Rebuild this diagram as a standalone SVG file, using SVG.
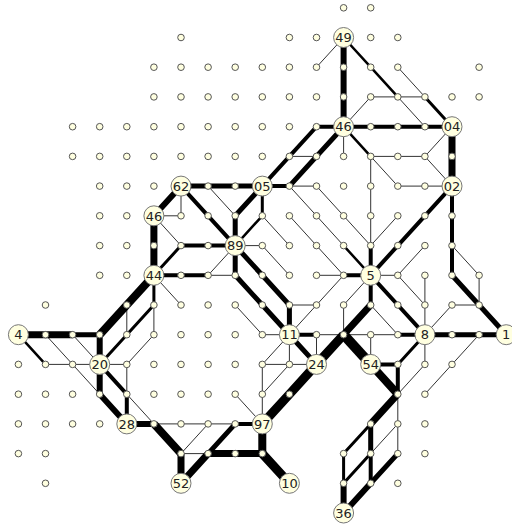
<svg xmlns="http://www.w3.org/2000/svg" width="512" height="527" viewBox="0 0 512 527">
<style>
.e{fill:none;stroke:#000;stroke-linecap:butt;stroke-linejoin:miter}
.w1{stroke-width:1;stroke:#333}.w2{stroke-width:2.5}.w3{stroke-width:3}.w4{stroke-width:4}.w5{stroke-width:5}.w6{stroke-width:6}.w7{stroke-width:7}.w8{stroke-width:8}.w9{stroke-width:9}.w10{stroke-width:10}
.d{fill:#ffffe0;stroke:#555;stroke-width:1}
.n circle{fill:#ffffe0;stroke:#777;stroke-width:1}
.n text{font-family:"DejaVu Sans",Verdana,sans-serif;font-size:13px;fill:#222;text-anchor:middle}
</style>
<rect width="512" height="527" fill="#fff"/>
<g id="connectors">
<path class="e w1" d="M316.5 67.2L343.6 37.5M397.8 96.9L424.9 126.7M397.8 67.2L424.9 96.9M343.6 126.7L370.7 96.9L424.9 96.9M424.9 156.4L452 126.7M370.7 156.4L424.9 156.4M424.9 156.4L452 186.1M343.6 126.7L343.6 156.4M316.5 186.1L343.6 215.8L370.7 245.6M370.7 156.4L370.7 245.6M370.7 156.4L397.8 186.1M397.8 186.1L452 186.1M397.8 215.8L370.7 245.6M452 245.6L479.1 275.3L479.1 305M424.9 334.7L452 305L479.1 305M289.4 186.1L316.5 215.8L343.6 245.6M289.4 215.8L316.5 245.6L343.6 275.3M316.5 275.3L343.6 275.3M370.7 275.3L397.8 275.3M424.9 245.6L397.8 275.3L424.9 305M424.9 275.3L424.9 334.7M370.7 305L397.8 334.7M370.7 275.3L343.6 305L343.6 334.7M343.6 275.3L316.5 305L289.4 334.7M289.4 305L316.5 305M316.5 334.7L397.8 334.7M316.5 334.7L316.5 364.4M370.7 334.7L370.7 364.4M424.9 334.7L424.9 364.4L397.8 394.2M479.1 334.7L452 364.4L424.9 394.2M397.8 394.2L397.8 453.6M397.8 423.9L370.7 453.6M289.4 186.1L316.5 186.1M289.4 156.4L316.5 156.4M181 186.1L181 215.8M208.1 186.1L235.2 215.8M262.3 215.8L289.4 245.6M235.2 245.6L262.3 245.6L289.4 275.3M235.2 245.6L208.1 275.3L235.2 275.3M153.9 215.8L181 215.8M153.9 215.8L181 245.6M153.9 275.3L181 305M126.8 305L126.8 334.7M153.9 305L153.9 334.7L126.8 364.4L99.7 364.4M45.5 334.7L72.6 364.4M72.6 334.7L99.7 364.4M45.5 364.4L99.7 364.4M126.8 364.4L126.8 394.2L153.9 423.9M72.6 364.4L99.7 394.2M153.9 423.9L235.2 423.9M208.1 423.9L181 453.6L208.1 453.6M262.3 423.9L262.3 364.4M262.3 423.9L235.2 394.2M262.3 394.2L289.4 364.4L316.5 364.4M289.4 334.7L262.3 364.4L289.4 364.4M289.4 334.7L289.4 364.4M235.2 305L262.3 334.7L289.4 334.7"/>
<path class="e w2" d="M343.6 37.5L370.7 67.2L397.8 96.9M18.4 334.7L45.5 364.4M262.3 215.8L235.2 245.6M343.6 126.7L370.7 156.4M343.6 245.6L370.7 275.3"/>
<path class="e w3" d="M424.9 96.9L452 126.7M262.3 186.1L262.3 215.8M153.9 275.3L181 245.6M153.9 275.3L153.9 305M153.9 305L126.8 334.7L99.7 364.4M397.8 364.4L424.9 334.7M370.7 423.9L343.6 453.6L343.6 483.3M370.7 453.6L343.6 483.3"/>
<path class="e w4" d="M343.6 126.7L452 126.7M452 186.1L424.9 215.8L397.8 245.6L370.7 275.3M452 186.1L452 275.3M370.7 245.6L370.7 275.3M343.6 275.3L370.7 275.3M370.7 275.3L397.8 305L424.9 334.7M370.7 275.3L370.7 305M289.4 334.7L316.5 334.7M397.8 334.7L424.9 334.7M370.7 364.4L397.8 364.4L397.8 394.2M262.3 186.1L289.4 156.4L316.5 126.7L343.6 126.7M262.3 186.1L289.4 186.1M181 186.1L208.1 215.8L235.2 245.6M181 245.6L235.2 245.6M153.9 275.3L208.1 275.3M99.7 364.4L126.8 394.2L126.8 423.9M235.2 423.9L262.3 423.9M370.7 453.6L370.7 483.3"/>
<path class="e w5" d="M452 275.3L479.1 305L506.2 334.7M424.9 334.7L506.2 334.7M289.4 334.7L316.5 364.4M370.7 423.9L370.7 453.6M397.8 453.6L370.7 483.3M289.4 186.1L316.5 156.4L343.6 126.7M181 186.1L262.3 186.1M262.3 186.1L235.2 215.8L235.2 245.6M235.2 245.6L262.3 275.3L289.4 305L289.4 334.7M235.2 245.6L235.2 275.3L262.3 305L289.4 334.7M72.6 334.7L99.7 334.7M235.2 423.9L208.1 453.6"/>
<path class="e w6" d="M343.6 37.5L343.6 126.7M181 186.1L153.9 215.8M99.7 334.7L99.7 364.4M99.7 364.4L99.7 394.2L126.8 423.9M126.8 423.9L153.9 423.9M343.6 483.3L343.6 513M370.7 483.3L343.6 513"/>
<path class="e w7" d="M452 126.7L452 186.1M153.9 215.8L153.9 275.3M18.4 334.7L72.6 334.7M370.7 305L343.6 334.7M397.8 394.2L370.7 423.9M181 453.6L181 483.3M208.1 453.6L181 483.3M208.1 453.6L262.3 453.6"/>
<path class="e w8" d="M153.9 275.3L126.8 305L99.7 334.7M370.7 364.4L397.8 394.2M153.9 423.9L181 453.6M262.3 453.6L262.3 423.9"/>
<path class="e w9" d="M343.6 334.7L316.5 364.4L289.4 394.2L262.3 423.9M262.3 453.6L289.4 483.3"/>
<path class="e w10" d="M343.6 334.7L370.7 364.4"/>
</g>
<g id="grid">
<circle class="d" r="3.3" cx="343.6" cy="7.8"/><circle class="d" r="3.3" cx="370.7" cy="7.8"/>
<circle class="d" r="3.3" cx="181" cy="37.5"/><circle class="d" r="3.3" cx="289.4" cy="37.5"/><circle class="d" r="3.3" cx="316.5" cy="37.5"/><circle class="d" r="3.3" cx="370.7" cy="37.5"/><circle class="d" r="3.3" cx="397.8" cy="37.5"/>
<circle class="d" r="3.3" cx="153.9" cy="67.2"/><circle class="d" r="3.3" cx="181" cy="67.2"/><circle class="d" r="3.3" cx="208.1" cy="67.2"/><circle class="d" r="3.3" cx="235.2" cy="67.2"/><circle class="d" r="3.3" cx="262.3" cy="67.2"/><circle class="d" r="3.3" cx="289.4" cy="67.2"/><circle class="d" r="3.3" cx="316.5" cy="67.2"/><circle class="d" r="3.3" cx="343.6" cy="67.2"/><circle class="d" r="3.3" cx="370.7" cy="67.2"/><circle class="d" r="3.3" cx="397.8" cy="67.2"/><circle class="d" r="3.3" cx="479.1" cy="67.2"/>
<circle class="d" r="3.3" cx="153.9" cy="96.9"/><circle class="d" r="3.3" cx="181" cy="96.9"/><circle class="d" r="3.3" cx="208.1" cy="96.9"/><circle class="d" r="3.3" cx="235.2" cy="96.9"/><circle class="d" r="3.3" cx="262.3" cy="96.9"/><circle class="d" r="3.3" cx="289.4" cy="96.9"/><circle class="d" r="3.3" cx="316.5" cy="96.9"/><circle class="d" r="3.3" cx="343.6" cy="96.9"/><circle class="d" r="3.3" cx="370.7" cy="96.9"/><circle class="d" r="3.3" cx="397.8" cy="96.9"/><circle class="d" r="3.3" cx="424.9" cy="96.9"/><circle class="d" r="3.3" cx="452" cy="96.9"/><circle class="d" r="3.3" cx="479.1" cy="96.9"/>
<circle class="d" r="3.3" cx="72.6" cy="126.7"/><circle class="d" r="3.3" cx="99.7" cy="126.7"/><circle class="d" r="3.3" cx="126.8" cy="126.7"/><circle class="d" r="3.3" cx="153.9" cy="126.7"/><circle class="d" r="3.3" cx="181" cy="126.7"/><circle class="d" r="3.3" cx="208.1" cy="126.7"/><circle class="d" r="3.3" cx="235.2" cy="126.7"/><circle class="d" r="3.3" cx="262.3" cy="126.7"/><circle class="d" r="3.3" cx="289.4" cy="126.7"/><circle class="d" r="3.3" cx="316.5" cy="126.7"/><circle class="d" r="3.3" cx="370.7" cy="126.7"/><circle class="d" r="3.3" cx="397.8" cy="126.7"/><circle class="d" r="3.3" cx="424.9" cy="126.7"/>
<circle class="d" r="3.3" cx="72.6" cy="156.4"/><circle class="d" r="3.3" cx="99.7" cy="156.4"/><circle class="d" r="3.3" cx="126.8" cy="156.4"/><circle class="d" r="3.3" cx="153.9" cy="156.4"/><circle class="d" r="3.3" cx="181" cy="156.4"/><circle class="d" r="3.3" cx="208.1" cy="156.4"/><circle class="d" r="3.3" cx="235.2" cy="156.4"/><circle class="d" r="3.3" cx="262.3" cy="156.4"/><circle class="d" r="3.3" cx="289.4" cy="156.4"/><circle class="d" r="3.3" cx="316.5" cy="156.4"/><circle class="d" r="3.3" cx="343.6" cy="156.4"/><circle class="d" r="3.3" cx="370.7" cy="156.4"/><circle class="d" r="3.3" cx="397.8" cy="156.4"/><circle class="d" r="3.3" cx="424.9" cy="156.4"/><circle class="d" r="3.3" cx="452" cy="156.4"/>
<circle class="d" r="3.3" cx="99.7" cy="186.1"/><circle class="d" r="3.3" cx="126.8" cy="186.1"/><circle class="d" r="3.3" cx="153.9" cy="186.1"/><circle class="d" r="3.3" cx="208.1" cy="186.1"/><circle class="d" r="3.3" cx="235.2" cy="186.1"/><circle class="d" r="3.3" cx="289.4" cy="186.1"/><circle class="d" r="3.3" cx="316.5" cy="186.1"/><circle class="d" r="3.3" cx="343.6" cy="186.1"/><circle class="d" r="3.3" cx="370.7" cy="186.1"/><circle class="d" r="3.3" cx="397.8" cy="186.1"/><circle class="d" r="3.3" cx="424.9" cy="186.1"/>
<circle class="d" r="3.3" cx="99.7" cy="215.8"/><circle class="d" r="3.3" cx="126.8" cy="215.8"/><circle class="d" r="3.3" cx="181" cy="215.8"/><circle class="d" r="3.3" cx="208.1" cy="215.8"/><circle class="d" r="3.3" cx="235.2" cy="215.8"/><circle class="d" r="3.3" cx="262.3" cy="215.8"/><circle class="d" r="3.3" cx="289.4" cy="215.8"/><circle class="d" r="3.3" cx="316.5" cy="215.8"/><circle class="d" r="3.3" cx="343.6" cy="215.8"/><circle class="d" r="3.3" cx="370.7" cy="215.8"/><circle class="d" r="3.3" cx="397.8" cy="215.8"/><circle class="d" r="3.3" cx="424.9" cy="215.8"/><circle class="d" r="3.3" cx="452" cy="215.8"/>
<circle class="d" r="3.3" cx="99.7" cy="245.6"/><circle class="d" r="3.3" cx="126.8" cy="245.6"/><circle class="d" r="3.3" cx="153.9" cy="245.6"/><circle class="d" r="3.3" cx="181" cy="245.6"/><circle class="d" r="3.3" cx="208.1" cy="245.6"/><circle class="d" r="3.3" cx="262.3" cy="245.6"/><circle class="d" r="3.3" cx="289.4" cy="245.6"/><circle class="d" r="3.3" cx="316.5" cy="245.6"/><circle class="d" r="3.3" cx="343.6" cy="245.6"/><circle class="d" r="3.3" cx="370.7" cy="245.6"/><circle class="d" r="3.3" cx="397.8" cy="245.6"/><circle class="d" r="3.3" cx="424.9" cy="245.6"/><circle class="d" r="3.3" cx="452" cy="245.6"/>
<circle class="d" r="3.3" cx="99.7" cy="275.3"/><circle class="d" r="3.3" cx="126.8" cy="275.3"/><circle class="d" r="3.3" cx="181" cy="275.3"/><circle class="d" r="3.3" cx="208.1" cy="275.3"/><circle class="d" r="3.3" cx="235.2" cy="275.3"/><circle class="d" r="3.3" cx="262.3" cy="275.3"/><circle class="d" r="3.3" cx="289.4" cy="275.3"/><circle class="d" r="3.3" cx="316.5" cy="275.3"/><circle class="d" r="3.3" cx="343.6" cy="275.3"/><circle class="d" r="3.3" cx="397.8" cy="275.3"/><circle class="d" r="3.3" cx="424.9" cy="275.3"/><circle class="d" r="3.3" cx="452" cy="275.3"/><circle class="d" r="3.3" cx="479.1" cy="275.3"/>
<circle class="d" r="3.3" cx="45.5" cy="305"/><circle class="d" r="3.3" cx="126.8" cy="305"/><circle class="d" r="3.3" cx="153.9" cy="305"/><circle class="d" r="3.3" cx="181" cy="305"/><circle class="d" r="3.3" cx="208.1" cy="305"/><circle class="d" r="3.3" cx="235.2" cy="305"/><circle class="d" r="3.3" cx="262.3" cy="305"/><circle class="d" r="3.3" cx="289.4" cy="305"/><circle class="d" r="3.3" cx="316.5" cy="305"/><circle class="d" r="3.3" cx="343.6" cy="305"/><circle class="d" r="3.3" cx="370.7" cy="305"/><circle class="d" r="3.3" cx="397.8" cy="305"/><circle class="d" r="3.3" cx="424.9" cy="305"/><circle class="d" r="3.3" cx="452" cy="305"/><circle class="d" r="3.3" cx="479.1" cy="305"/>
<circle class="d" r="3.3" cx="45.5" cy="334.7"/><circle class="d" r="3.3" cx="72.6" cy="334.7"/><circle class="d" r="3.3" cx="99.7" cy="334.7"/><circle class="d" r="3.3" cx="126.8" cy="334.7"/><circle class="d" r="3.3" cx="153.9" cy="334.7"/><circle class="d" r="3.3" cx="181" cy="334.7"/><circle class="d" r="3.3" cx="208.1" cy="334.7"/><circle class="d" r="3.3" cx="235.2" cy="334.7"/><circle class="d" r="3.3" cx="262.3" cy="334.7"/><circle class="d" r="3.3" cx="316.5" cy="334.7"/><circle class="d" r="3.3" cx="343.6" cy="334.7"/><circle class="d" r="3.3" cx="370.7" cy="334.7"/><circle class="d" r="3.3" cx="397.8" cy="334.7"/><circle class="d" r="3.3" cx="452" cy="334.7"/><circle class="d" r="3.3" cx="479.1" cy="334.7"/>
<circle class="d" r="3.3" cx="18.4" cy="364.4"/><circle class="d" r="3.3" cx="45.5" cy="364.4"/><circle class="d" r="3.3" cx="72.6" cy="364.4"/><circle class="d" r="3.3" cx="126.8" cy="364.4"/><circle class="d" r="3.3" cx="153.9" cy="364.4"/><circle class="d" r="3.3" cx="181" cy="364.4"/><circle class="d" r="3.3" cx="208.1" cy="364.4"/><circle class="d" r="3.3" cx="235.2" cy="364.4"/><circle class="d" r="3.3" cx="262.3" cy="364.4"/><circle class="d" r="3.3" cx="289.4" cy="364.4"/><circle class="d" r="3.3" cx="397.8" cy="364.4"/><circle class="d" r="3.3" cx="424.9" cy="364.4"/><circle class="d" r="3.3" cx="452" cy="364.4"/>
<circle class="d" r="3.3" cx="18.4" cy="394.2"/><circle class="d" r="3.3" cx="45.5" cy="394.2"/><circle class="d" r="3.3" cx="72.6" cy="394.2"/><circle class="d" r="3.3" cx="99.7" cy="394.2"/><circle class="d" r="3.3" cx="126.8" cy="394.2"/><circle class="d" r="3.3" cx="153.9" cy="394.2"/><circle class="d" r="3.3" cx="181" cy="394.2"/><circle class="d" r="3.3" cx="208.1" cy="394.2"/><circle class="d" r="3.3" cx="235.2" cy="394.2"/><circle class="d" r="3.3" cx="262.3" cy="394.2"/><circle class="d" r="3.3" cx="289.4" cy="394.2"/><circle class="d" r="3.3" cx="397.8" cy="394.2"/><circle class="d" r="3.3" cx="424.9" cy="394.2"/>
<circle class="d" r="3.3" cx="18.4" cy="423.9"/><circle class="d" r="3.3" cx="45.5" cy="423.9"/><circle class="d" r="3.3" cx="72.6" cy="423.9"/><circle class="d" r="3.3" cx="99.7" cy="423.9"/><circle class="d" r="3.3" cx="153.9" cy="423.9"/><circle class="d" r="3.3" cx="181" cy="423.9"/><circle class="d" r="3.3" cx="208.1" cy="423.9"/><circle class="d" r="3.3" cx="235.2" cy="423.9"/><circle class="d" r="3.3" cx="370.7" cy="423.9"/><circle class="d" r="3.3" cx="397.8" cy="423.9"/><circle class="d" r="3.3" cx="424.9" cy="423.9"/>
<circle class="d" r="3.3" cx="18.4" cy="453.6"/><circle class="d" r="3.3" cx="45.5" cy="453.6"/><circle class="d" r="3.3" cx="181" cy="453.6"/><circle class="d" r="3.3" cx="208.1" cy="453.6"/><circle class="d" r="3.3" cx="235.2" cy="453.6"/><circle class="d" r="3.3" cx="262.3" cy="453.6"/><circle class="d" r="3.3" cx="343.6" cy="453.6"/><circle class="d" r="3.3" cx="370.7" cy="453.6"/><circle class="d" r="3.3" cx="397.8" cy="453.6"/><circle class="d" r="3.3" cx="424.9" cy="453.6"/>
<circle class="d" r="3.3" cx="45.5" cy="483.3"/><circle class="d" r="3.3" cx="343.6" cy="483.3"/><circle class="d" r="3.3" cx="370.7" cy="483.3"/><circle class="d" r="3.3" cx="397.8" cy="483.3"/>
</g>
<g id="n49" class="n"><circle cx="343.6" cy="37.5" r="10"/><text x="343.6" y="42.2">49</text></g>
<g id="n46a" class="n"><circle cx="343.6" cy="126.7" r="10"/><text x="343.6" y="131.4">46</text></g>
<g id="n04" class="n"><circle cx="452" cy="126.7" r="10"/><text x="452" y="131.4">04</text></g>
<g id="n02" class="n"><circle cx="452" cy="186.1" r="10"/><text x="452" y="190.8">02</text></g>
<g id="n62" class="n"><circle cx="181" cy="186.1" r="10"/><text x="181" y="190.8">62</text></g>
<g id="n05" class="n"><circle cx="262.3" cy="186.1" r="10"/><text x="262.3" y="190.8">05</text></g>
<g id="n46b" class="n"><circle cx="153.9" cy="215.8" r="10"/><text x="153.9" y="220.5">46</text></g>
<g id="n89" class="n"><circle cx="235.2" cy="245.6" r="10"/><text x="235.2" y="250.3">89</text></g>
<g id="n44" class="n"><circle cx="153.9" cy="275.3" r="10"/><text x="153.9" y="280">44</text></g>
<g id="n5" class="n"><circle cx="370.7" cy="275.3" r="10"/><text x="370.7" y="280">5</text></g>
<g id="n4" class="n"><circle cx="18.4" cy="334.7" r="10"/><text x="18.4" y="339.4">4</text></g>
<g id="n11" class="n"><circle cx="289.4" cy="334.7" r="10"/><text x="289.4" y="339.4">11</text></g>
<g id="n8" class="n"><circle cx="424.9" cy="334.7" r="10"/><text x="424.9" y="339.4">8</text></g>
<g id="n1" class="n"><circle cx="506.2" cy="334.7" r="10"/><text x="506.2" y="339.4">1</text></g>
<g id="n20" class="n"><circle cx="99.7" cy="364.4" r="10"/><text x="99.7" y="369.1">20</text></g>
<g id="n24" class="n"><circle cx="316.5" cy="364.4" r="10"/><text x="316.5" y="369.1">24</text></g>
<g id="n54" class="n"><circle cx="370.7" cy="364.4" r="10"/><text x="370.7" y="369.1">54</text></g>
<g id="n28" class="n"><circle cx="126.8" cy="423.9" r="10"/><text x="126.8" y="428.6">28</text></g>
<g id="n97" class="n"><circle cx="262.3" cy="423.9" r="10"/><text x="262.3" y="428.6">97</text></g>
<g id="n52" class="n"><circle cx="181" cy="483.3" r="10"/><text x="181" y="488">52</text></g>
<g id="n110" class="n"><circle cx="289.4" cy="483.3" r="10"/><text x="289.4" y="488">10</text></g>
<g id="n36" class="n"><circle cx="343.6" cy="513" r="10"/><text x="343.6" y="517.7">36</text></g>
</svg>
